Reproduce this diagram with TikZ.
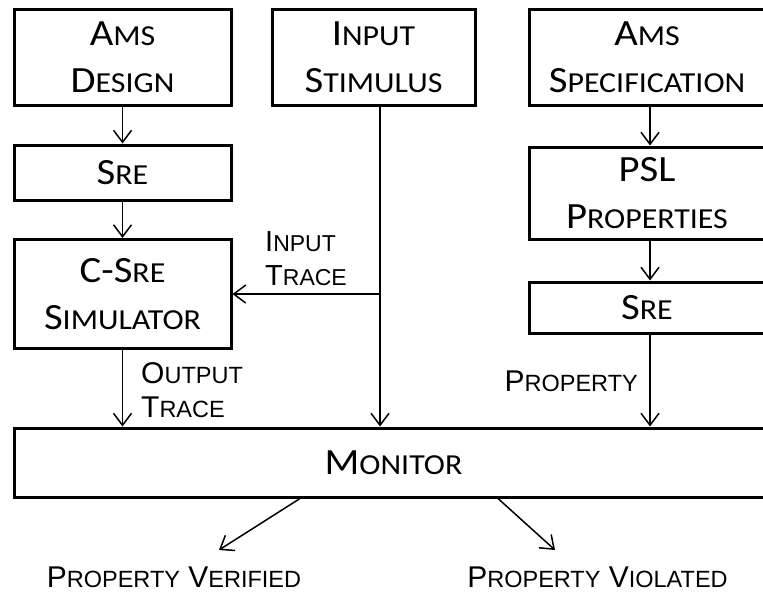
\documentclass[tikz,border=0pt]{standalone}
\usepackage{fontspec}
\setmainfont{Carlito}[FakeStretch=1.1]
\newfontfamily\labfont{Liberation Sans}
\usetikzlibrary{arrows.meta}
\newcommand\bx[2]{{\fontsize{37}{47}\selectfont#1}{\fontsize{29}{47}\selectfont#2}}
\newcommand\lb[2]{{\fontsize{30}{34}\selectfont#1}{\fontsize{23.5}{34}\selectfont#2}}
\newcommand\lbs[2]{{\fontsize{29}{35}\selectfont#1}{\fontsize{23}{35}\selectfont#2}}
\tikzset{
  box/.style={draw, line width=3pt, inner sep=0pt, align=center, font=\fontsize{37}{47}\selectfont},
  arr/.style={line width=1.5pt, -{Straight Barb[length=12pt,width=18pt,line width=1.5pt]}},
  lbl/.style={inner sep=0pt, font=\labfont\fontsize{30}{34}\selectfont}
}
\begin{document}
\begin{tikzpicture}[x=1pt,y=-1pt]
\useasboundingbox (0,0) rectangle (763,594);
\clip (0,0) rectangle (763,594);
% boxes
\node[box, minimum width=217pt, minimum height=95pt] (design) at (122.5,57.5) {\bx{A}{MS}\\\bx{D}{ESIGN}};
\node[box, minimum width=203pt, minimum height=95pt] (stim) at (373.5,57.5) {\bx{I}{NPUT}\\\bx{S}{TIMULUS}};
\node[box, minimum width=236pt, minimum height=95pt] (spec) at (647,57.5) {\bx{A}{MS}\\\bx{S}{PECIFICATION}};
\node[box, minimum width=217pt, minimum height=55pt] (sre1) at (122.5,172.5) {\bx{S}{RE}};
\node[box, minimum width=217pt, minimum height=109pt] (sim) at (122.5,294) {\bx{C-S}{RE}\\\bx{S}{IMULATOR}};
\node[box, minimum width=236pt, minimum height=92pt] (psl) at (647,193) {\bx{PSL}{}\\\bx{P}{ROPERTIES}};
\node[box, minimum width=236pt, minimum height=51pt] (sre2) at (647,307.5) {\bx{S}{RE}};
\node[box, minimum width=759pt, minimum height=69pt] (mon) at (393.5,462.5) {\bx{M}{ONITOR}};
% labels
\node[lbl, anchor=base west, align=left] (intr) at (265,285) {\lbs{I}{NPUT}\\\lbs{T}{RACE}};
\node[lbl, anchor=base west, align=left] (outtr) at (141,417) {\lb{O}{UTPUT}\\\lb{T}{RACE}};
\node[lbl, anchor=base east] (prop) at (638,391) {\lb{P}{ROPERTY}};
\node[lbl, anchor=base] (ver) at (174,587) {\lb{P}{ROPERTY} \lb{V}{ERIFIED}};
\node[lbl, anchor=base] (vio) at (597.5,587) {\lb{P}{ROPERTY} \lb{V}{IOLATED}};
% connectors
\coordinate (j) at (380,294);
\coordinate (pr) at (650,0);
\coordinate (v0) at (300,0);
\coordinate (v1) at (219,550);
\coordinate (w0) at (498,0);
\coordinate (w1) at (555,550);
\draw[arr] (design) -- (sre1);
\draw[arr] (sre1) -- (sim);
\draw[arr] (spec.south -| pr) -- (psl.north -| pr);
\draw[arr] (psl.south -| pr) -- (sre2.north -| pr);
\draw[arr] (sre2.south -| pr) -- (mon.north -| pr);
\draw[arr] (stim.south -| j) -- (mon.north -| j);
\draw[arr] (j) -- (sim.east |- j);
\draw[arr] (sim.south) -- (mon.north -| sim.south);
\draw[arr] (mon.south -| v0) -- (v1);
\draw[arr] (mon.south -| w0) -- (w1);
\end{tikzpicture}
\end{document}
